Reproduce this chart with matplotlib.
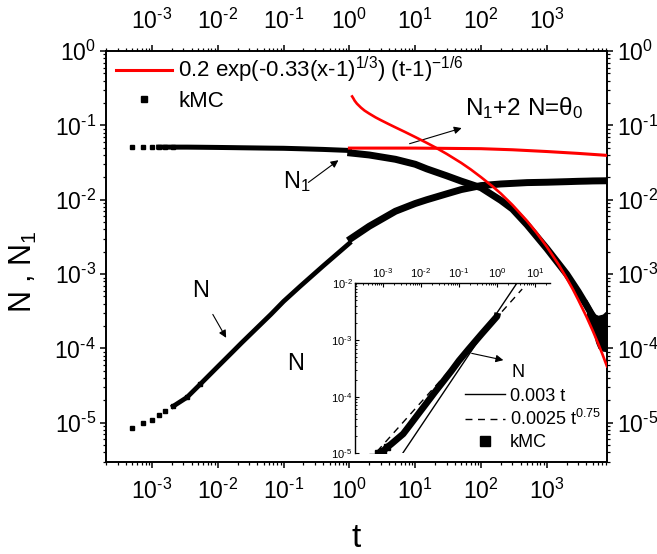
import matplotlib
matplotlib.use('Agg')
import matplotlib.pyplot as plt
import numpy as np
from matplotlib.ticker import LogLocator, NullFormatter, FuncFormatter
from matplotlib.lines import Line2D

plt.rcParams['font.family'] = 'Liberation Sans'
plt.rcParams['mathtext.fontset'] = 'custom'
plt.rcParams['mathtext.rm'] = 'Liberation Sans'
plt.rcParams['mathtext.it'] = 'Liberation Sans:italic'
plt.rcParams['mathtext.bf'] = 'Liberation Sans:bold'

# kMC output times; the simulation restarts its sampling at t = 1 (step in both curves)
t_kmc = [5.0e-4, 7.4e-4, 1.0e-3, 1.26e-3, 1.6e-3, 2.1e-3, 3.4e-3, 5.4e-3, 1.0e-2, 1.7e-2,
         2.3e-2, 6.4e-2, 0.1, 0.18, 0.4, 1.0,
         1.05, 2.0, 5.0, 10.0, 15.0, 30.0, 50.0, 100.0, 200.0, 300.0, 500.0, 1000.0,
         2000.0, 3000.0, 4000.0, 5000.0, 8200.0]
N1_kmc = [0.051, 0.051, 0.051, 0.051, 0.051, 0.051, 0.051, 0.0508, 0.0505, 0.0502,
          0.050, 0.0494, 0.0492, 0.0485, 0.0475, 0.046,
          0.0425, 0.040, 0.035, 0.030, 0.026, 0.021, 0.0178, 0.0145, 0.0098, 0.0075, 0.0046,
          0.0022, 0.0010, 0.00058, 0.00038, 0.00027, 0.00018]
N_kmc = [8.5e-6, 1.0e-5, 1.08e-5, 1.27e-5, 1.43e-5, 1.67e-5, 2.2e-5, 3.3e-5, 5.7e-5, 9.1e-5,
         1.19e-4, 2.87e-4, 4.3e-4, 6.9e-4, 1.29e-3, 2.6e-3,
         3.0e-3, 4.4e-3, 7.0e-3, 8.9e-3, 1.0e-2, 1.2e-2, 1.37e-2, 1.55e-2, 1.63e-2, 1.66e-2,
         1.70e-2, 1.72e-2, 1.75e-2, 1.77e-2, 1.78e-2, 1.79e-2, 1.80e-2]
n_early = 16  # points before the restart at t = 1

# scatter of N1 at the latest times
t_tail = [4000.0, 5000.0, 5500.0, 6000.0, 7000.0, 8200.0]
N1_tail_hi = [4.6e-4, 3.2e-4, 2.9e-4, 2.8e-4, 2.9e-4, 3.3e-4]
N1_tail_lo = [2.7e-4, 1.7e-4, 1.2e-4, 1.0e-4, 0.92e-4, 0.9e-4]

# fit 0.2 exp(-0.33 (t-1)^(1/3)) (t-1)^(-1/6)
t_fit = [1.1, 1.15, 1.2, 1.3, 1.5, 1.7, 2.0, 2.5, 3.0, 4.0, 5.0, 7.0, 10.0, 15.0, 20.0,
         30.0, 50.0, 70.0, 100.0, 150.0, 200.0, 300.0, 500.0, 700.0, 1000.0, 1500.0,
         2000.0, 2500.0, 3000.0, 4000.0, 5000.0, 6000.0, 7000.0, 8000.0, 8200.0]
N1_fit = [0.245, 0.230, 0.215, 0.196, 0.173, 0.158, 0.144, 0.128, 0.1176, 0.1035, 0.094,
          0.0815, 0.0697, 0.0581, 0.0508, 0.0414, 0.0313, 0.0255, 0.0201, 0.0151, 0.0121,
          0.00851, 0.00518, 0.00359, 0.00233, 0.001353, 0.00088, 0.000617, 0.00045,
          0.000267, 0.000172, 0.0001173, 8.33e-5, 6.08e-5, 5.75e-5]

# coverage N1 + 2N
t_theta = [1.0, 10.0, 100.0, 300.0, 1000.0, 3000.0, 8200.0]
theta = [0.0495, 0.0495, 0.0486, 0.047, 0.0445, 0.042, 0.0395]

# inset power laws (end points)
t_lin = [3.3e-3, 3.33]
N_lin = [1.0e-5, 1.0e-2]
t_pow = [7.0e-4, 4.6]
N_pow = [1.08e-5, 7.9e-3]


def pow10(v, pos):
    e = int(round(np.log10(v)))
    # short hyphen in the exponent, as in Origin-style labels
    return '$\\mathregular{10^{%s}}$' % str(e).replace('-', '\u2010')


def log_axis(a, fs, major_len, minor_len, width, direction):
    for axis in (a.xaxis, a.yaxis):
        axis.set_major_locator(LogLocator(base=10, numticks=100))
        axis.set_minor_locator(LogLocator(base=10, subs=np.arange(2, 10), numticks=100))
        axis.set_minor_formatter(NullFormatter())
        axis.set_major_formatter(FuncFormatter(pow10))
    a.tick_params(which='major', length=major_len, width=width, direction=direction, labelsize=fs)
    a.tick_params(which='minor', length=minor_len, width=width * 0.8, direction=direction)


fig = plt.figure(figsize=(6.57, 5.54), dpi=100)
ax = fig.add_axes([0.1613, 0.1666, 0.7626, 0.7413])

ax.set_xscale('log')
ax.set_yscale('log')
ax.set_xlim(2e-4, 8200)
ax.set_ylim(3e-6, 1.0)
log_axis(ax, 16.5, 4, 2.2, 1.1, 'out')
ax.tick_params(top=True, right=True, labeltop=True, labelright=True, which='both')
ax.tick_params(axis='x', which='major', pad=8)
ax.tick_params(axis='y', which='major', pad=3.2)
for s in ax.spines.values():
    s.set_linewidth(1.4)

t_arr = np.array(t_kmc)
# kMC: discrete squares at early times, dense band afterwards
ax.plot(t_arr[:6], N1_kmc[:6], 's', color='k', ms=3.5, zorder=3)
ax.plot(t_arr[:8], N_kmc[:8], 's', color='k', ms=3.5, zorder=3)
ax.plot(t_arr[3:n_early], N1_kmc[3:n_early], '-', color='k', lw=3.6, zorder=3)
ax.plot(t_arr[n_early:-1], N1_kmc[n_early:-1], '-', color='k', lw=5, zorder=3)
ax.fill_between(t_tail, N1_tail_lo, N1_tail_hi, color='k', lw=0, zorder=3)
ax.plot(t_arr[5:n_early], N_kmc[5:n_early], '-', color='k', lw=3.4, zorder=3)
ax.plot(t_arr[n_early:], N_kmc[n_early:], '-', color='k', lw=5, zorder=3)

ax.plot(t_fit, N1_fit, '-', color='#ff0000', lw=1.9, zorder=4)
ax.plot(t_theta, theta, '-', color='#ff0000', lw=2.2, zorder=4)

ax.set_xlabel('t', fontsize=24, labelpad=14)
ax.set_ylabel('N , N$_1$', fontsize=22, labelpad=11, y=0.463)

handles = [Line2D([], [], color='#ff0000', lw=2.2),
           Line2D([], [], ls='none', marker='s', color='k', ms=4)]
labels = ['0.2 exp(-0.33(x-1)$^{1/3}$) (t-1)$^{-1/6}$', 'kMC']
ax.legend(handles, labels, loc='upper left', bbox_to_anchor=(0.02, 0.99), frameon=False,
          fontsize=16, handlelength=2.5, handletextpad=0.3, borderpad=0,
          borderaxespad=0, labelspacing=0.25)

arrow = dict(arrowstyle='-|>', color='k', lw=0.8, mutation_scale=11, shrinkA=0, shrinkB=0)
ax.annotate('', xy=(0.68, 0.034), xytext=(0.238, 0.0171), arrowprops=arrow)
ax.text(0.098, 0.0142, 'N$_1$', fontsize=17, ha='left', va='baseline')
ax.annotate('', xy=(50.8, 0.092), xytext=(8.2, 0.0567), arrowprops=arrow)
ax.text(56.5, 0.136, 'N$_1$+2 N=θ$_0$', fontsize=17.5, ha='left', va='baseline')
ax.annotate('', xy=(0.0134, 1.39e-4), xytext=(8.4e-3, 2.87e-4), arrowprops=arrow)
ax.text(4.1e-3, 4.85e-4, 'N', fontsize=17, ha='left', va='baseline')
ax.text(0.113, 5.2e-5, 'N', fontsize=17, ha='left', va='baseline')

# inset: early-time growth of N
ax_in = fig.add_axes([0.5408, 0.1818, 0.2959, 0.3069])
ax_in.set_xscale('log')
ax_in.set_yscale('log')
ax_in.set_xlim(1.87e-4, 24.4)
ax_in.set_ylim(1e-5, 1e-2)
log_axis(ax_in, 8, 3, 1.6, 0.8, 'in')
ax_in.tick_params(axis='x', which='both', top=True, bottom=False, labeltop=True, labelbottom=False, pad=2)
ax_in.tick_params(axis='y', which='both', left=True, right=False, pad=2)
ax_in.spines['right'].set_visible(False)
ax_in.spines['bottom'].set_visible(False)
for side in ('top', 'left'):
    ax_in.spines[side].set_linewidth(1.0)
ax_in.patch.set_alpha(0)

ax_in.plot(t_arr[:4], N_kmc[:4], 's', color='k', ms=4)
ax_in.plot(t_arr[1:n_early + 1], N_kmc[1:n_early + 1], '-', color='k', lw=4.8,
           solid_capstyle='butt')
ax_in.plot(t_lin, N_lin, '-', color='k', lw=1.0)
ax_in.plot(t_pow, N_pow, '--', color='k', lw=1.0, dashes=(5, 4))
ax_in.annotate('', xy=(1.47, 4.4e-4), xytext=(0.216, 5.8e-4), arrowprops=arrow)
ax_in.text(2.44, 2.25e-4, 'N', fontsize=13, ha='left', va='baseline')

in_handles = [Line2D([], [], color='k', lw=1.0),
              Line2D([], [], color='k', lw=1.0, ls='--', dashes=(5, 4)),
              Line2D([], [], ls='none', marker='s', color='k', ms=7)]
in_labels = ['0.003 t', '0.0025 t$^{0.75}$', 'kMC']
ax_in.legend(in_handles, in_labels, loc='upper left', bbox_to_anchor=(0.7078, 0.300),
             bbox_transform=fig.transFigure, frameon=False, fontsize=13,
             handlelength=2.2, handletextpad=0.3, borderpad=0, borderaxespad=0,
             labelspacing=0.25)

fig.savefig('out.png', dpi=100)
